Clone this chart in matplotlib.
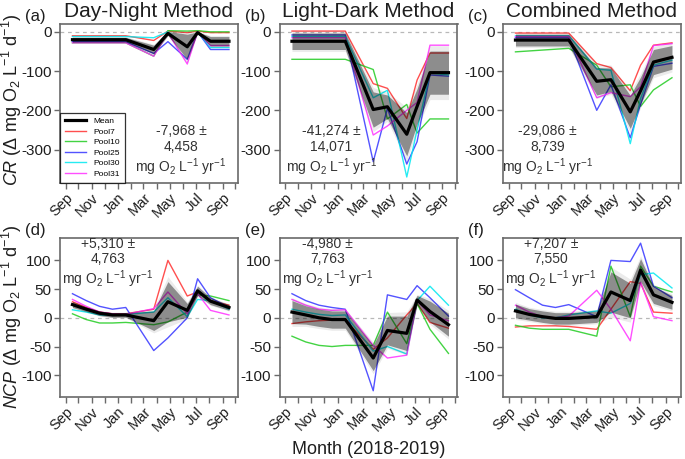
import matplotlib
matplotlib.use('Agg')
import matplotlib.pyplot as plt
import numpy as np
from datetime import datetime

plt.rcParams['font.family'] = ['Liberation Sans', 'DejaVu Sans']
plt.rcParams['mathtext.fontset'] = 'custom'
plt.rcParams['mathtext.rm'] = 'Liberation Sans'
plt.rcParams['mathtext.it'] = 'Liberation Sans:italic'
plt.rcParams['axes.unicode_minus'] = False

# ---------------- data ----------------
dates_top = ['2018-09-17', '2019-01-19', '2019-03-25', '2019-04-27',
             '2019-06-11', '2019-07-05', '2019-08-04', '2019-09-16']
dates_bot = ['2018-09-17', '2018-10-19', '2018-11-19', '2018-12-19', '2019-01-19',
             '2019-03-25', '2019-04-27', '2019-06-11', '2019-07-05', '2019-08-04',
             '2019-09-16']

series_names = ['Pool7', 'Pool10', 'Pool25', 'Pool30', 'Pool31']
series_colors = ['#ff3030', '#22cc22', '#3535ff', '#00e8f0', '#ff30ff']

# (a) CR Day-Night
cr_dn_mean = [-20, -20, -45, -4, -38, -2, -24, -24]
cr_dn_se = [6, 6, 11, 5, 32, 2, 12, 12]
cr_dn_pool7 = [-10, -10, -22, 2, -2, 2, -2, -2]
cr_dn_pool10 = [-28, -28, -62, 3, 2, 3, 0, 0]
cr_dn_pool25 = [-25, -25, -55, -25, -70, 0, -45, -45]
cr_dn_pool30 = [-12, -12, -15, 0, -40, 0, -40, -40]
cr_dn_pool31 = [-28, -28, -62, -2, -82, 0, -35, -35]

# (b) CR Light-Dark
cr_ld_mean = [-24, -24, -198, -191, -261, -190, -104, -104]
cr_ld_se = [21, 21, 45, 30, 55, 45, 55, 55]
cr_ld_pool7 = [2, 2, -132, -144, -221, -123, -54, -54]
cr_ld_pool10 = [-70, -70, -96, -222, -185, -258, -222, -222]
cr_ld_pool25 = [-8, -8, -331, -195, -337, -280, -110, -113]
cr_ld_pool30 = [-12, -12, -168, -149, -370, -250, -105, -110]
cr_ld_pool31 = [-15, -15, -263, -240, -200, -180, -34, -34]

# (c) CR Combined
cr_cb_mean = [-21, -21, -126, -122, -204, -150, -77, -65]
cr_cb_se = [15, 15, 35, 30, 42, 35, 32, 30]
cr_cb_pool7 = [-3, -3, -81, -91, -150, -85, -34, -28]
cr_cb_pool10 = [-51, -42, -85, -140, -135, -190, -148, -117]
cr_cb_pool25 = [-15, -15, -200, -135, -270, -185, -88, -80]
cr_cb_pool30 = [-10, -10, -95, -98, -285, -170, -85, -72]
cr_cb_pool31 = [-12, -12, -168, -155, -165, -140, -35, -30]

# (d) NCP Day-Night
ncp_dn_mean = [23, 15, 8, 5, 5, -5, 28, 13, 47, 29, 18]
ncp_dn_se = [5, 4, 4, 4, 4, 17, 35, 12, 8, 6, 5]
ncp_dn_pool7 = [28, 18, 10, 7, 7, 15, 100, 38, 45, 30, 22]
ncp_dn_pool10 = [7, -3, -9, -9, -8, -12, -7, 10, 40, 38, 30]
ncp_dn_pool25 = [42, 30, 20, 15, 18, -57, -35, 0, 68, 35, 18]
ncp_dn_pool30 = [14, 10, 5, 4, 6, 10, 35, 2, 32, 30, 15]
ncp_dn_pool31 = [32, 20, 10, 7, 6, 16, 45, 7, 42, 13, 5]

# (e) NCP Light-Dark
ncp_ld_mean = [10, 5, 0, -3, -3, -70, -22, -27, 31, 11, -12]
ncp_ld_se = [20, 16, 15, 15, 15, 22, 25, 30, 8, 18, 20]
ncp_ld_pool7 = [-10, -7, -5, -4, -4, -55, -35, 5, 25, -8, -18]
ncp_ld_pool10 = [-32, -42, -48, -50, -48, -48, 10, -45, 25, -20, -62]
ncp_ld_pool25 = [42, 30, 22, 18, 15, -127, 40, 32, 56, 35, 3]
ncp_ld_pool30 = [15, 10, 6, 4, 5, -58, -50, -63, 30, 55, 22]
ncp_ld_pool31 = [32, 22, 15, 13, 14, -48, -70, -65, 30, 5, -5]

# (f) NCP Combined
ncp_cb_mean = [12, 6, 2, -1, -1, 2, 45, 30, 83, 40, 27]
ncp_cb_se = [12, 10, 10, 10, 10, 10, 35, 30, 20, 15, 12]
ncp_cb_pool7 = [-16, -14, -14, -14, -15, -20, 15, 63, 60, 10, 8]
ncp_cb_pool10 = [-13, -18, -20, -20, -20, -32, 90, 2, 90, 55, 45]
ncp_cb_pool25 = [49, 35, 22, 18, 23, 2, 100, 98, 130, 55, 35]
ncp_cb_pool30 = [15, 5, 0, 0, 5, 12, 8, 25, 75, 78, 52]
ncp_cb_pool31 = [22, 10, 2, 0, 3, 48, 15, -40, 62, 2, -5]

titles = ['Day-Night Method', 'Light-Dark Method', 'Combined Method']
panel_letters = ['(a)', '(b)', '(c)', '(d)', '(e)', '(f)']
annual_texts = ['-7,968 \u00b1\n4,458', '-41,274 \u00b1\n14,071', '-29,086 \u00b1\n8,739',
                '+5,310 \u00b1\n4,763', '-4,980 \u00b1\n7,763', '+7,207 \u00b1\n7,550']
month_labels = ['Sep', '', 'Nov', '', 'Jan', '', 'Mar', '', 'May', '', 'Jul', '', 'Sep', '']

# --------------- assemble ---------------
panels = [
    (dates_top, cr_dn_mean, cr_dn_se, [cr_dn_pool7, cr_dn_pool10, cr_dn_pool25, cr_dn_pool30, cr_dn_pool31]),
    (dates_top, cr_ld_mean, cr_ld_se, [cr_ld_pool7, cr_ld_pool10, cr_ld_pool25, cr_ld_pool30, cr_ld_pool31]),
    (dates_top, cr_cb_mean, cr_cb_se, [cr_cb_pool7, cr_cb_pool10, cr_cb_pool25, cr_cb_pool30, cr_cb_pool31]),
    (dates_bot, ncp_dn_mean, ncp_dn_se, [ncp_dn_pool7, ncp_dn_pool10, ncp_dn_pool25, ncp_dn_pool30, ncp_dn_pool31]),
    (dates_bot, ncp_ld_mean, ncp_ld_se, [ncp_ld_pool7, ncp_ld_pool10, ncp_ld_pool25, ncp_ld_pool30, ncp_ld_pool31]),
    (dates_bot, ncp_cb_mean, ncp_cb_se, [ncp_cb_pool7, ncp_cb_pool10, ncp_cb_pool25, ncp_cb_pool30, ncp_cb_pool31]),
]

W, H = 685, 459
fig = plt.figure(figsize=(W / 100, H / 100), dpi=100)

lefts = [60, 279.5, 503]
width_px = 178
tops = [24, 238]
height_px = 158.5

frame_col = '#6a6a6a'
text_col = '#1e1e1e'

month_ticks = [datetime(2018 + (8 + i) // 12, (8 + i) % 12 + 1, 1) for i in range(14)]

for idx, (dts, mean, se, pools) in enumerate(panels):
    row, col = divmod(idx, 3)
    l = lefts[col]
    t = tops[row]
    ax = fig.add_axes([l / W, 1 - (t + height_px) / H, width_px / W, height_px / H])
    x = [datetime.strptime(d, '%Y-%m-%d') for d in dts]
    mean_a = np.array(mean, float)
    se_a = np.array(se, float)

    ax.axhline(0, color='#b8b8b8', lw=0.9, ls=(0, (3, 3)), zorder=1)
    for vals, name, c in zip(pools, series_names, series_colors):
        ax.plot(x, vals, color=c, lw=1.0, alpha=0.85, zorder=2, label=name)
    ax.fill_between(x, mean_a - 1.25 * se_a, mean_a + 1.25 * se_a, color='black', alpha=0.08,
                    lw=0, zorder=3)
    ax.fill_between(x, mean_a - se_a, mean_a + se_a, color='black', alpha=0.40,
                    lw=0, zorder=3)
    ax.plot(x, mean, color='black', lw=2.3, zorder=4, label='Mean')

    ax.set_xlim(datetime(2018, 8, 19), datetime(2019, 10, 7))
    ax.set_xticks(month_ticks)
    ax.set_xticklabels(month_labels, rotation=45, ha='right', rotation_mode='anchor',
                       fontsize=10.5, color=text_col)
    if row == 0:
        ax.set_ylim(-384, 20)
        ax.set_yticks([0, -100, -200, -300])
    else:
        ax.set_ylim(-137, 139)
        ax.set_yticks([100, 50, 0, -50, -100])
    ax.tick_params(axis='y', labelsize=11, colors=frame_col, labelcolor=text_col,
                   length=4, width=1, direction='out', pad=2)
    ax.tick_params(axis='x', colors=frame_col, labelcolor=text_col,
                   length=4, width=1, direction='out', pad=2)
    for s in ax.spines.values():
        s.set_color(frame_col)
        s.set_linewidth(1.2)

    if row == 0:
        ax.set_title(titles[col], fontsize=15, color=text_col, pad=5)

    # panel letter
    fig.text((l - 35) / W, 1 - (t - 3) / H, panel_letters[idx], fontsize=12,
             color=text_col, ha='left', va='baseline')

    # annual text
    if row == 0:
        tx = [0.68, 0.29, 0.25][col]
        ty = 0.2
    else:
        tx = 0.27
        ty = 0.84
    ax.text(tx, ty, annual_texts[idx] + '\nmg O$_2$ L$^{-1}$ yr$^{-1}$', transform=ax.transAxes,
            ha='center', va='center', fontsize=10, color='#333333', linespacing=1.15,
            zorder=6)

    if idx == 0:
        handles, labels = ax.get_legend_handles_labels()
        order = [5, 0, 1, 2, 3, 4]
        leg = ax.legend([handles[i] for i in order], [labels[i] for i in order],
                        loc='lower left', fontsize=6.0, frameon=True, fancybox=False,
                        borderaxespad=0, handlelength=2.6, labelspacing=0.33,
                        borderpad=0.55, handletextpad=0.9)
        leg.get_frame().set_edgecolor('black')
        leg.get_frame().set_linewidth(0.9)
        leg.set_zorder(7)

fig.text(12 / W, 1 - 100 / H, r'$\mathit{CR}$ ($\Delta$ mg O$_2$ L$^{-1}$ d$^{-1}$)',
         rotation=90, ha='center', va='center', fontsize=13, color=text_col)
fig.text(12 / W, 1 - 317 / H, r'$\mathit{NCP}$ ($\Delta$ mg O$_2$ L$^{-1}$ d$^{-1}$)',
         rotation=90, ha='center', va='center', fontsize=13, color=text_col)
fig.text(369 / W, 1 - 449 / H, 'Month (2018-2019)', ha='center', va='center',
         fontsize=13, color=text_col)

fig.savefig('out.png', dpi=100)
